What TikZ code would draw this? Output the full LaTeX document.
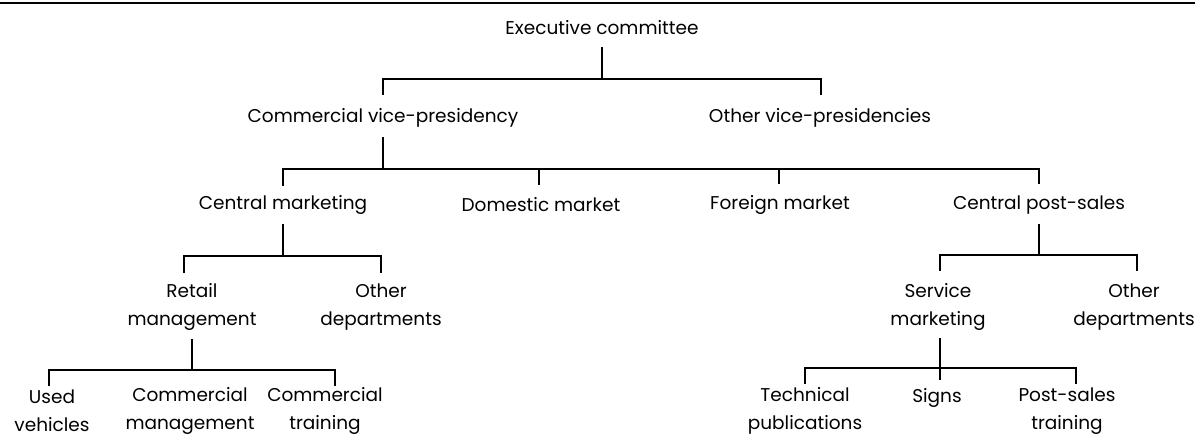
\documentclass[tikz,border=0pt]{standalone}
\usepackage{fontspec}
\setmainfont{Poppins}
\begin{document}
\begin{tikzpicture}[x=1pt,y=-1pt,
  lbl/.style={font=\fontsize{18.5}{28}\selectfont,inner sep=0pt,align=center,anchor=center},
  conn/.style={line width=1.1pt,line cap=rect}]
\useasboundingbox (0,0) rectangle (1195,445);
\draw[line width=2pt] (0,3) -- (1195,3);
% nodes
\node[lbl] (exec) at (602,28) {Executive committee};
\node[lbl] (cvp) at (383,118) {Commercial vice-presidency};
\node[lbl] (ovp) at (820,118) {Other vice-presidencies};
\node[lbl] (cm) at (283,205) {Central marketing};
\node[lbl] (dm) at (541,205) {Domestic market};
\node[lbl] (fm) at (780,205) {Foreign market};
\node[lbl] (cps) at (1039,205) {Central post-sales};
\node[lbl] (rm) at (192,307) {Retail\\management};
\node[lbl] (od1) at (381,307) {Other\\departments};
\node[lbl] (sm) at (938,307) {Service\\marketing};
\node[lbl] (od2) at (1134,307) {Other\\departments};
\node[lbl] (uv) at (52,411) {Used\\vehicles};
\node[lbl] (cmg) at (190,411) {Commercial\\management};
\node[lbl] (ct) at (325,411) {Commercial\\training};
\node[lbl] (tp) at (805,411) {Technical\\publications};
\node[lbl] (sg) at (937,398) {Signs};
\node[lbl] (pst) at (1067,411) {Post-sales\\training};
% connectors
\draw[conn] ([yshift=-20pt]exec.center) -- (exec.center |- 0,79) -| ([yshift=24pt]cvp.center);
\draw[conn] (exec.center |- 0,79) -| ([yshift=24pt,xshift=1pt]ovp.center);
\draw[conn] ([yshift=-20pt]cvp.center) -- (cvp.center |- 0,169) -| ([yshift=20pt]cm.center);
\draw[conn] (cvp.center |- 0,169) -| ([yshift=22pt]cps.center);
\draw[conn] ([xshift=-2pt]dm.center |- 0,169) -- ([xshift=-2pt,yshift=21pt]dm.center);
\draw[conn] ([xshift=-1pt]fm.center |- 0,169) -- ([xshift=-1pt,yshift=22pt]fm.center);
\draw[conn] ([yshift=-20pt]cm.center) -- (cm.center |- 0,256) -| ([xshift=-8pt,yshift=35pt]rm.center);
\draw[conn] (cm.center |- 0,256) -| ([yshift=35pt]od1.center);
\draw[conn,line width=1.6pt] ([yshift=-20pt]cps.center) -- (cps.center |- 0,255);
\draw[conn] (cps.center |- 0,255) -| ([xshift=2pt,yshift=37pt]sm.center);
\draw[conn] (cps.center |- 0,255) -| ([xshift=3pt,yshift=37pt]od2.center);
\draw[conn] ([yshift=-33pt]rm.center) -- (rm.center |- 0,370) -| ([xshift=-3pt,yshift=26pt]uv.center);
\draw[conn] (rm.center |- 0,370) -| ([xshift=10pt,yshift=26pt]ct.center);
\draw[conn] ([xshift=2pt,yshift=-32pt]sm.center) -- ([xshift=2pt]sm.center |- 0,368) -| ([yshift=28pt]tp.center);
\draw[conn] ([xshift=2pt]sm.center |- 0,368) -| ([xshift=9pt,yshift=28pt]pst.center);
\draw[conn] ([xshift=2pt]sm.center |- 0,368) -- ([xshift=3pt,yshift=19pt]sg.center);
\end{tikzpicture}
\end{document}
